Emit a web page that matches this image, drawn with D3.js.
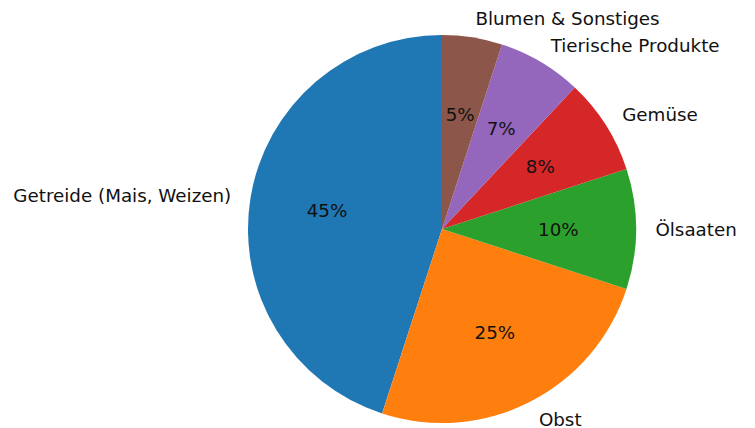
<html>
<head>
  <title>Pie</title>
  <script src="https://d3js.org/d3.v7.min.js"></script>
  <style>
    body { margin: 0; background: #fff; }
    text { font-family: "DejaVu Sans", sans-serif; font-size: 18.3px; fill: #111; }
  </style>
</head>
<body>
  <div id="chart"></div>
  <script type="text/javascript">

    var categories = ['Getreide (Mais, Weizen)', 'Obst', 'Ölsaaten', 'Gemüse', 'Tierische Produkte', 'Blumen & Sonstiges'];
    var shares = [45, 25, 10, 8, 7, 5];
    var colors = ['#1f77b4', '#ff7f0e', '#2ca02c', '#d62728', '#9467bd', '#8c564b'];

    var width = 755, height = 428;
    var cx = 442, cy = 229, radius = 194;

    var data = categories.map(function(c, i) { return {name: c, value: shares[i], color: colors[i]}; });

    var svg = d3.select('#chart')
                .append('svg')
                  .attr('width', width)
                  .attr('height', height)
                .append('g')
                  .attr('transform', 'translate(' + cx + ',' + cy + ')');

    // counter-clockwise from the top, like matplotlib startangle=90
    var pie = d3.pie()
                .sort(null)
                .startAngle(0)
                .endAngle(-2 * Math.PI)
                .value(function(d) { return d.value; });

    var arc = d3.arc().innerRadius(0).outerRadius(radius);

    var arcs = pie(data);

    svg.selectAll('path.slice')
       .data(arcs)
       .enter().append('path')
         .attr('class', 'slice')
         .attr('d', arc)
         .attr('fill', function(d) { return d.data.color; });

    function mid(d) { return (d.startAngle + d.endAngle) / 2; }

    // category labels at 1.1 r
    svg.selectAll('text.label')
       .data(arcs)
       .enter().append('text')
         .attr('class', 'label')
         .attr('x', function(d) { return Math.sin(mid(d)) * radius * 1.1; })
         .attr('y', function(d) { return -Math.cos(mid(d)) * radius * 1.1; })
         .attr('dominant-baseline', 'central')
         .attr('text-anchor', function(d) { return Math.sin(mid(d)) > 0 ? 'start' : 'end'; })
         .text(function(d) { return d.data.name; });

    // percentage labels at 0.6 r
    svg.selectAll('text.pct')
       .data(arcs)
       .enter().append('text')
         .attr('class', 'pct')
         .attr('x', function(d) { return Math.sin(mid(d)) * radius * 0.6; })
         .attr('y', function(d) { return -Math.cos(mid(d)) * radius * 0.6; })
         .attr('dominant-baseline', 'central')
         .attr('text-anchor', 'middle')
         .text(function(d) { return d.data.value + '%'; });

  </script>
</body>
</html>
